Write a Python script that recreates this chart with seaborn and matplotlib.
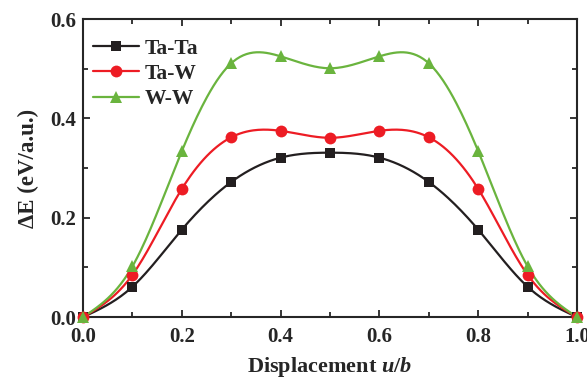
import numpy as np
import pandas as pd
import matplotlib
matplotlib.use("Agg")
import matplotlib.pyplot as plt
import seaborn as sns
from matplotlib.ticker import MultipleLocator

# data
displacement = [0.0, 0.1, 0.2, 0.3, 0.4, 0.5, 0.6, 0.7, 0.8, 0.9, 1.0]
ta_ta = [0.0, 0.061, 0.176, 0.272, 0.321, 0.331, 0.321, 0.272, 0.176, 0.061, 0.0]
ta_w = [0.0, 0.085, 0.258, 0.362, 0.375, 0.361, 0.375, 0.362, 0.258, 0.085, 0.0]
w_w = [0.0, 0.102, 0.334, 0.511, 0.525, 0.501, 0.525, 0.511, 0.334, 0.102, 0.0]
series_names = ["Ta-Ta", "Ta-W", "W-W"]
colors = ["#231f20", "#ed1c24", "#6ab43e"]
markers = ["s", "o", "^"]
msizes = [7, 8.5, 9]


def smooth(x, y, n=300):
    # natural cubic spline, just for drawing the connecting curve
    x = np.asarray(x, float); y = np.asarray(y, float)
    k = len(x); h = np.diff(x)
    A = np.zeros((k, k)); b = np.zeros(k)
    A[0, 0] = A[-1, -1] = 1
    for i in range(1, k - 1):
        A[i, i - 1] = h[i - 1]; A[i, i] = 2 * (h[i - 1] + h[i]); A[i, i + 1] = h[i]
        b[i] = 6 * ((y[i + 1] - y[i]) / h[i] - (y[i] - y[i - 1]) / h[i - 1])
    M = np.linalg.solve(A, b)
    xs = np.linspace(x[0], x[-1], n)
    idx = np.clip(np.searchsorted(x, xs) - 1, 0, k - 2)
    x0, x1 = x[idx], x[idx + 1]; hh = x1 - x0
    ys = (M[idx] * (x1 - xs) ** 3 + M[idx + 1] * (xs - x0) ** 3) / (6 * hh) \
        + (y[idx] / hh - M[idx] * hh / 6) * (x1 - xs) + (y[idx + 1] / hh - M[idx + 1] * hh / 6) * (xs - x0)
    return xs, ys


sns.set_style("ticks")
plt.rcParams['font.family'] = ['Liberation Serif', 'DejaVu Serif']
plt.rcParams['font.weight'] = 'bold'
plt.rcParams['mathtext.fontset'] = 'custom'
plt.rcParams['mathtext.rm'] = 'Liberation Serif:bold'
plt.rcParams['mathtext.it'] = 'Liberation Serif:bold:italic'
plt.rcParams['mathtext.bf'] = 'Liberation Serif:bold'

fig = plt.figure(figsize=(5.87, 3.82), dpi=100)
ax = fig.add_axes([0.1414, 0.170, 0.8416, 0.780])

for name, vals, c, m, ms in zip(series_names, [ta_ta, ta_w, w_w], colors, markers, msizes):
    xs, ys = smooth(displacement, vals)
    sns.lineplot(x=xs, y=ys, ax=ax, color=c, linewidth=1.6, legend=False)
    df = pd.DataFrame({"x": displacement, "y": vals})
    ax.plot(df["x"], df["y"], linestyle="none", marker=m, color=c, markersize=ms,
            markeredgewidth=0, clip_on=False, zorder=5)
    # proxy for the legend
    ax.plot([], [], color=c, marker=m, markersize=ms, markeredgewidth=0, linewidth=1.6, label=name)

ax.set_xlim(0, 1.0)
ax.set_ylim(0, 0.6)
ax.xaxis.set_major_locator(MultipleLocator(0.2))
ax.xaxis.set_minor_locator(MultipleLocator(0.1))
ax.yaxis.set_major_locator(MultipleLocator(0.2))
ax.yaxis.set_minor_locator(MultipleLocator(0.1))
ax.xaxis.set_major_formatter(plt.FormatStrFormatter('%.1f'))
ax.yaxis.set_major_formatter(plt.FormatStrFormatter('%.1f'))
ax.tick_params(which='both', direction='in', top=True, right=True, width=1.3, labelsize=15)
ax.tick_params(which='major', length=5)
ax.tick_params(which='minor', length=3.5)
ax.tick_params(axis='x', pad=7)
ax.tick_params(axis='y', pad=5)
for s in ax.spines.values():
    s.set_linewidth(1.5)
for lab in ax.get_xticklabels() + ax.get_yticklabels():
    lab.set_fontweight('bold')

ax.set_xlabel(r"Displacement $\it{u/b}$", fontsize=16, fontweight='bold', labelpad=6)
ax.set_ylabel("ΔE (eV/a.u.)", fontsize=16.5, fontweight='bold', labelpad=8)

leg = ax.legend(loc='upper left', bbox_to_anchor=(0.02, 0.935), frameon=False,
                prop={'weight': 'bold', 'size': 15.5}, handlelength=2.15,
                handletextpad=0.25, labelspacing=0.25, borderpad=0, borderaxespad=0)

plt.savefig("out.png", dpi=100)
